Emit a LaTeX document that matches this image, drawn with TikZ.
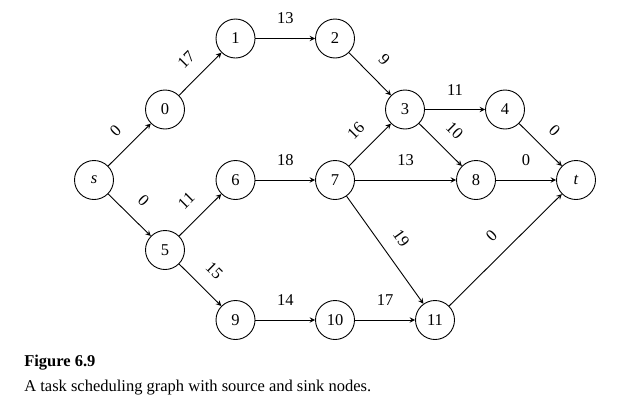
\documentclass[tikz,border=0pt]{standalone}
\usepackage{fontspec}
\setmainfont{Liberation Serif}
\usetikzlibrary{arrows,positioning}

\begin{document}
\begin{tikzpicture}[x=0.6667pt,y=-0.6667pt]
\tikzset{every node/.style={font=\fontsize{11}{13}\selectfont}}
\tikzset{task/.style={draw,circle,minimum size=26pt,inner sep=0pt}}
\tikzset{cost/.style={above=6pt,sloped}}
\tikzset{link/.style={draw,semithick,-stealth}}
\tikzset{caption/.style={anchor=base west,inner sep=0pt}}
\useasboundingbox (0,0) rectangle (623,408);
\node[task,semithick] (s) at (94,180) {\textit{s}};
\node[task,semithick] (n0) at (165,109.5) {0};
\node[task,semithick] (n1) at (235.5,38.5) {1};
\node[task,semithick] (n2) at (335,38.5) {2};
\node[task,semithick] (n3) at (405,109.5) {3};
\node[task,semithick] (n4) at (505,109.5) {4};
\node[task,semithick] (n5) at (165,250) {5};
\node[task,semithick] (n6) at (235.5,180) {6};
\node[task,semithick] (n7) at (335,180) {7};
\node[task,semithick] (n8) at (476,180) {8};
\node[task,semithick] (t) at (576,180) {\textit{t}};
\node[task,semithick] (n9) at (235.5,320) {9};
\node[task,semithick] (n10) at (335,320) {10};
\node[task,semithick] (n11) at (435,320) {11};
\foreach \a/\b/\w in {s/n0/0,s/n5/0,n0/n1/17,n1/n2/13,n2/n3/9,n3/n4/11,n3/n8/10,
  n4/t/0,n5/n6/11,n5/n9/15,n6/n7/18,n7/n3/16,n7/n8/13,n7/n11/19,n8/t/0,
  n9/n10/14,n10/n11/17,n11/t/0}
  \draw[link] (\a) -- node[cost] {\w} (\b);
\node[caption,font=\fontsize{11}{13}\selectfont\bfseries] (fig) at (24,366) {Figure 6.9};
\node[caption] (cap) at (24,391) {A task scheduling graph with source and sink nodes.};
\end{tikzpicture}
\end{document}
